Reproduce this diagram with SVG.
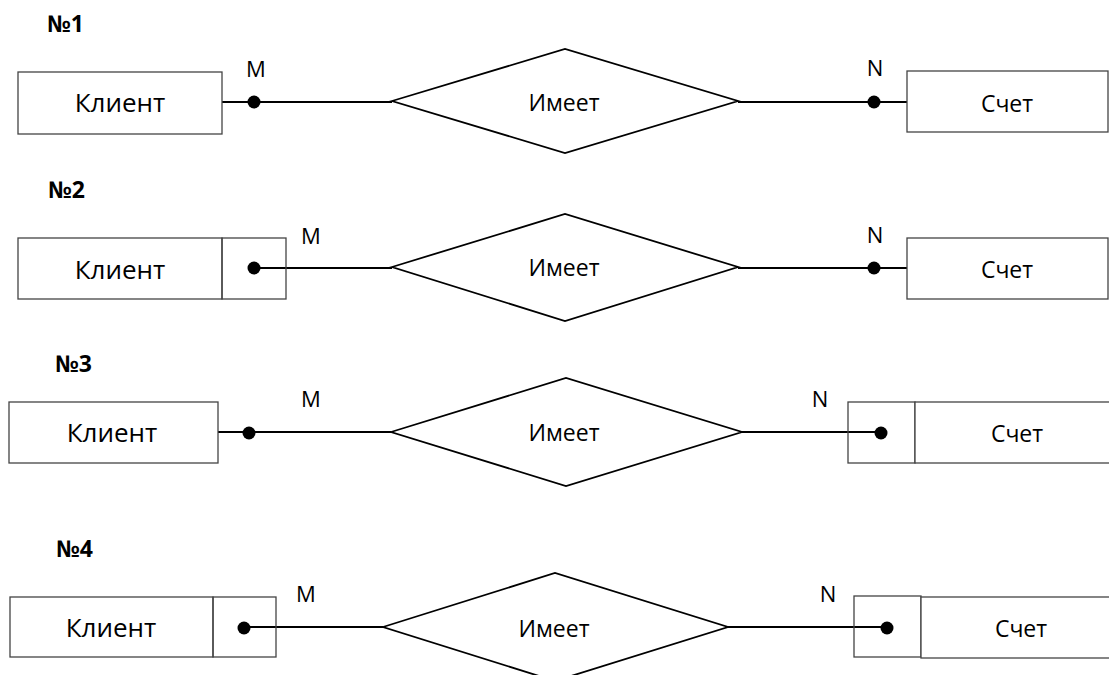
<svg xmlns="http://www.w3.org/2000/svg" width="1109" height="675" viewBox="0 0 1109 675">
<style>
  .ent { fill: #fff; stroke: #444; stroke-width: 1.3; }
  .box { fill: none; stroke: #444; stroke-width: 1.3; }
  .rel { fill: #fff; stroke: #000; stroke-width: 1.8; }
  .ln { stroke: #000; stroke-width: 1.8; fill: none; }
  .dot { fill: #000; }
  text { font-family: "Open Sans", "Noto Sans", "DejaVu Sans", sans-serif; fill: #000; text-anchor: middle; }
  .lbl { font-size: 26px; }
  .rtxt { font-size: 23px; }
  .card { font-size: 22px; }
  .num { font-size: 23px; font-weight: bold; text-anchor: start; }
</style>
<rect width="1109" height="675" fill="#fff"/>

<g id="titles">
  <text class="num" x="47" y="32">№1</text>
  <text class="num" x="48" y="198">№2</text>
  <text class="num" x="55" y="372">№3</text>
  <text class="num" x="56" y="557">№4</text>
</g>

<g id="connectors">
  <line class="ln" x1="222" y1="102" x2="392" y2="102"/>
  <line class="ln" x1="738" y1="102" x2="907" y2="102"/>
  <line class="ln" x1="254" y1="268" x2="392" y2="268"/>
  <line class="ln" x1="738" y1="268" x2="907" y2="268"/>
  <line class="ln" x1="218" y1="432" x2="391" y2="432"/>
  <line class="ln" x1="742" y1="432" x2="881" y2="432"/>
  <line class="ln" x1="244" y1="627" x2="383" y2="627"/>
  <line class="ln" x1="728" y1="627" x2="887" y2="627"/>
  <circle class="dot" cx="254" cy="102" r="6.5"/>
  <circle class="dot" cx="874" cy="102" r="6.5"/>
  <circle class="dot" cx="254" cy="268" r="6.5"/>
  <circle class="dot" cx="874" cy="268" r="6.5"/>
  <circle class="dot" cx="249" cy="433" r="6.5"/>
  <circle class="dot" cx="881" cy="433" r="6.5"/>
  <circle class="dot" cx="244" cy="628" r="6.5"/>
  <circle class="dot" cx="887" cy="628" r="6.5"/>
  <text class="card" x="256" y="77">M</text>
  <text class="card" x="875" y="76">N</text>
  <text class="card" x="311" y="244">M</text>
  <text class="card" x="875" y="243">N</text>
  <text class="card" x="311" y="407">M</text>
  <text class="card" x="820" y="407">N</text>
  <text class="card" x="306" y="602">M</text>
  <text class="card" x="828" y="602">N</text>
</g>

<g id="client1">
  <rect class="ent" x="18" y="72" width="204" height="62"/>
  <text class="lbl" x="120" y="112">Клиент</text>
</g>
<g id="rel1">
  <polygon class="rel" points="392,101 565,49 738,101 565,153"/>
  <text class="rtxt" x="564" y="111">Имеет</text>
</g>
<g id="acc1">
  <rect class="ent" x="907" y="71" width="201" height="61"/>
  <text class="rtxt" x="1007" y="112">Счет</text>
</g>

<g id="client2">
  <rect class="ent" x="18" y="238" width="204" height="61"/>
  <rect class="box" x="222" y="238" width="64" height="61"/>
  <text class="lbl" x="120" y="279">Клиент</text>
</g>
<g id="rel2">
  <polygon class="rel" points="392,267 565,214 738,267 565,321"/>
  <text class="rtxt" x="564" y="276">Имеет</text>
</g>
<g id="acc2">
  <rect class="ent" x="907" y="238" width="201" height="61"/>
  <text class="rtxt" x="1007" y="278">Счет</text>
</g>

<g id="client3">
  <rect class="ent" x="9" y="402" width="209" height="61"/>
  <text class="lbl" x="112" y="442">Клиент</text>
</g>
<g id="rel3">
  <polygon class="rel" points="391,432 566,378 742,432 566,486"/>
  <text class="rtxt" x="564" y="441">Имеет</text>
</g>
<g id="acc3">
  <rect class="box" x="848" y="402" width="67" height="61"/>
  <rect class="ent" x="915" y="402" width="195" height="61"/>
  <text class="rtxt" x="1017" y="442">Счет</text>
</g>

<g id="client4">
  <rect class="ent" x="10" y="597" width="203" height="60"/>
  <rect class="box" x="213" y="597" width="63" height="60"/>
  <text class="lbl" x="111" y="637">Клиент</text>
</g>
<g id="rel4">
  <polygon class="rel" points="383,627 555,573 728,627 555,681"/>
  <text class="rtxt" x="554" y="637">Имеет</text>
</g>
<g id="acc4">
  <rect class="box" x="854" y="596" width="67" height="61"/>
  <rect class="ent" x="921" y="597" width="189" height="61"/>
  <text class="rtxt" x="1021" y="637">Счет</text>
</g>
</svg>
